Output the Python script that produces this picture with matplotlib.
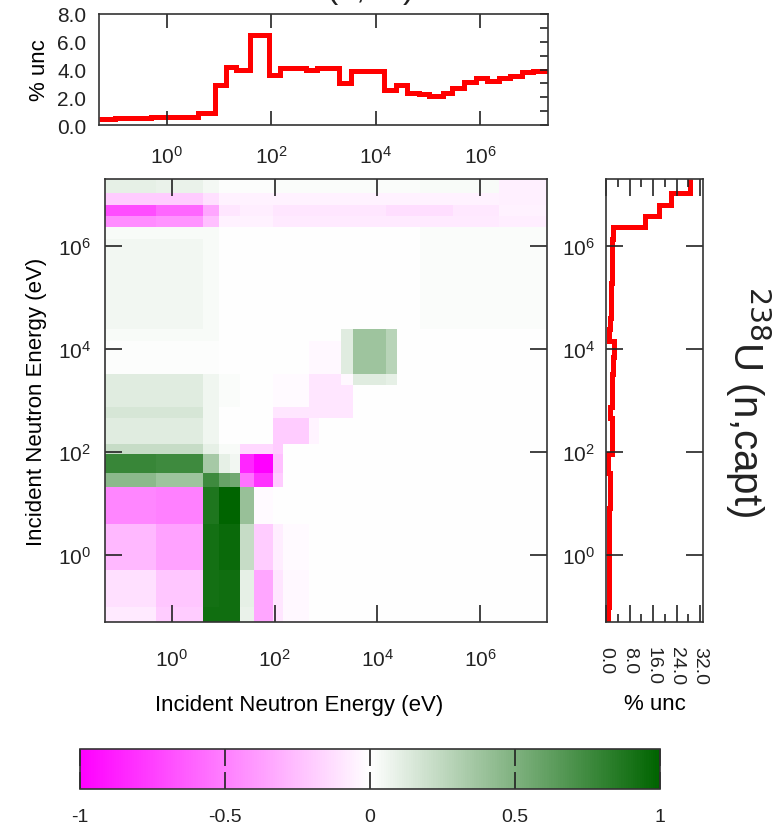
import matplotlib

matplotlib.use("Agg")
import matplotlib.pyplot as plt
import numpy as np
from matplotlib.colors import LinearSegmentedColormap
from matplotlib.ticker import FixedLocator, MultipleLocator

# group boundaries, log10(E / eV)
edges_log = [-1.30, -1.00, -0.30, 0.60, 0.92, 1.14, 1.33, 1.59, 1.96, 2.16, 2.45,
             2.66, 2.87, 3.05, 3.30, 3.52, 3.85, 4.16, 4.39, 4.60, 4.83, 5.03,
             5.28, 5.47, 5.70, 5.93, 6.13, 6.36, 6.58, 6.80, 7.02, 7.30]

# % uncertainty of the column reaction (top panel)
unc_top = [0.4, 0.5, 0.6, 0.9, 2.9, 4.2, 4.0, 6.5, 3.6, 4.1, 4.1, 4.0, 4.1, 4.1,
           3.0, 3.9, 3.9, 2.5, 2.9, 2.3, 2.2, 2.1, 2.3, 2.7, 3.1, 3.4, 3.2, 3.4,
           3.5, 3.8, 3.9]

# % uncertainty of 238U (n,capt) (right panel)
unc_right = [0.8, 0.9, 1.0, 1.0, 1.2, 1.3, 1.3, 0.8, 1.9, 2.0, 2.2, 1.4, 2.0, 2.0,
             2.0, 2.4, 2.6, 1.1, 1.5, 1.6, 1.8, 1.8, 1.9, 1.9, 1.9, 2.0, 2.4,
             13.4, 18.0, 22.1, 28.5]

# correlation blocks: (row0, row1, col0, col1, value)
corr_blocks = [
    (30, 31, 0, 2, 0.10), (30, 31, 2, 3, 0.08), (30, 31, 3, 4, 0.04),
    (30, 31, 4, 8, 0.01), (30, 31, 8, 20, 0.02), (30, 31, 20, 27, 0.03),
    (30, 31, 27, 31, -0.06),
    (29, 30, 0, 3, -0.20), (29, 30, 3, 4, -0.12), (29, 30, 4, 27, -0.05),
    (29, 30, 27, 31, -0.06),
    (28, 29, 0, 2, -0.70), (28, 29, 2, 3, -0.60), (28, 29, 3, 4, -0.35),
    (28, 29, 4, 6, -0.10), (28, 29, 6, 8, -0.07), (28, 29, 8, 17, -0.10),
    (28, 29, 17, 23, -0.13), (28, 29, 23, 27, -0.09), (28, 29, 27, 31, -0.05),
    (27, 28, 0, 2, -0.45), (27, 28, 2, 3, -0.42), (27, 28, 3, 4, -0.25),
    (27, 28, 4, 8, -0.05), (27, 28, 8, 27, -0.08), (27, 28, 27, 31, -0.07),
    (18, 27, 0, 3, 0.05), (18, 27, 3, 4, 0.03), (18, 27, 20, 31, 0.02),
    (26, 27, 0, 3, 0.03),
    (17, 18, 0, 4, 0.03),
    (15, 17, 0, 4, 0.01), (15, 17, 11, 14, -0.03),
    (15, 18, 14, 15, 0.12), (15, 18, 15, 17, 0.38), (15, 18, 17, 18, 0.28),
    (12, 15, 0, 3, 0.12), (12, 15, 3, 4, 0.06), (12, 15, 4, 6, 0.02),
    (12, 15, 8, 11, -0.02), (12, 15, 11, 15, -0.10),
    (14, 15, 14, 15, -0.03), (14, 15, 15, 17, 0.12), (14, 15, 17, 18, 0.10),
    (11, 12, 0, 3, 0.16), (11, 12, 3, 4, 0.06), (11, 12, 8, 15, -0.10),
    (9, 11, 0, 3, 0.12), (9, 11, 3, 4, 0.06), (9, 11, 8, 11, -0.20),
    (9, 11, 11, 12, -0.04),
    (8, 9, 0, 3, 0.22), (8, 9, 3, 4, 0.10), (8, 9, 4, 6, 0.03),
    (8, 9, 6, 8, -0.15), (8, 9, 8, 9, -0.20),
    (7, 8, 0, 2, 0.78), (7, 8, 2, 3, 0.75), (7, 8, 3, 4, 0.35),
    (7, 8, 4, 5, 0.10), (7, 8, 5, 6, 0.05), (7, 8, 6, 7, -0.85),
    (7, 8, 7, 8, -1.00), (7, 8, 8, 9, -0.25),
    (6, 7, 0, 2, 0.45), (6, 7, 2, 3, 0.38), (6, 7, 3, 4, 0.75),
    (6, 7, 4, 5, 0.60), (6, 7, 5, 6, 0.55), (6, 7, 6, 7, -0.55),
    (6, 7, 7, 8, -0.80), (6, 7, 8, 9, -0.20),
    (3, 6, 0, 2, -0.47), (3, 6, 2, 3, -0.50), (3, 6, 3, 4, 0.88),
    (3, 6, 4, 6, 1.00), (3, 6, 6, 7, 0.40), (3, 6, 7, 8, -0.02),
    (2, 3, 0, 2, -0.28), (2, 3, 2, 3, -0.36), (2, 3, 3, 4, 0.92),
    (2, 3, 4, 6, 0.96), (2, 3, 6, 7, 0.22), (2, 3, 7, 8, -0.20),
    (2, 3, 8, 9, -0.07), (2, 3, 9, 11, -0.02),
    (1, 2, 0, 2, -0.12), (1, 2, 2, 3, -0.22), (1, 2, 3, 4, 0.92),
    (1, 2, 4, 6, 0.93), (1, 2, 6, 7, 0.10), (1, 2, 7, 8, -0.35),
    (1, 2, 8, 9, -0.10), (1, 2, 9, 11, -0.03),
    (0, 1, 0, 2, -0.08), (0, 1, 2, 3, -0.20), (0, 1, 3, 6, 0.93),
    (0, 1, 6, 7, 0.08), (0, 1, 7, 8, -0.35), (0, 1, 8, 9, -0.10),
    (0, 1, 9, 11, -0.03),
]

cbar_ticks = [-1, -0.5, 0, 0.5, 1]
cbar_labels = ["-1", "-0.5", "0", "0.5", "1"]
energy_ticks = [1e0, 1e2, 1e4, 1e6]

edges = 10.0 ** np.array(edges_log)
n = len(edges) - 1
corr = np.zeros((n, n))
for r0, r1, c0, c1, v in corr_blocks:
    corr[r0:r1, c0:c1] = v

plt.rcParams.update({
    "font.family": ["Liberation Sans", "DejaVu Sans"],
    "font.size": 15,
    "axes.unicode_minus": False,
    "axes.edgecolor": "#333333",
    "axes.linewidth": 1.2,
    "xtick.color": "#222222",
    "ytick.color": "#222222",
    "text.color": "#222222",
})

cmap = LinearSegmentedColormap.from_list("pg", ["#ff00ff", "#ffffff", "#006400"])
W, H = 780, 829
fig = plt.figure(figsize=(W / 100, H / 100), dpi=100)


def box(x0, y0, x1, y1):
    return [x0 / W, 1 - y1 / H, (x1 - x0) / W, (y1 - y0) / H]


ax_top = fig.add_axes(box(99, 15, 548, 126))
ax_main = fig.add_axes(box(105, 180, 547, 623))
ax_right = fig.add_axes(box(606, 180, 703, 623))
cax = fig.add_axes(box(80, 750, 660, 790))

xlo, xhi = edges[0], edges[-1]

# top panel
ax_top.stairs(unc_top, edges, baseline=None, color="red", lw=3.6)
ax_top.set_xscale("log")
ax_top.set_xlim(xlo, xhi)
ax_top.set_ylim(0, 8)
ax_top.xaxis.set_major_locator(FixedLocator(energy_ticks))
ax_top.xaxis.set_minor_locator(FixedLocator([]))
ax_top.set_yticks([0, 2, 4, 6, 8])
ax_top.set_yticklabels(["0.0", "2.0", "4.0", "6.0", "8.0"])
ax_top.yaxis.set_minor_locator(MultipleLocator(1))
ax_top.tick_params(axis="x", direction="in", top=True, bottom=True, length=10, width=1.2, pad=14)
ax_top.tick_params(axis="y", which="both", direction="in", left=False, right=True,
                   length=6, width=1.2, pad=9)
ax_top.set_ylabel("% unc", fontsize=16, labelpad=5)

# correlation matrix
mesh = ax_main.pcolormesh(edges, edges, corr, cmap=cmap, vmin=-1, vmax=1,
                          shading="flat", edgecolors="face", linewidth=0)
ax_main.set_xscale("log")
ax_main.set_yscale("log")
ax_main.set_xlim(xlo, xhi)
ax_main.set_ylim(xlo, xhi)
for axis in (ax_main.xaxis, ax_main.yaxis):
    axis.set_major_locator(FixedLocator(energy_ticks))
    axis.set_minor_locator(FixedLocator([]))
ax_main.tick_params(axis="x", direction="in", top=True, length=12, width=1.2, pad=19)
ax_main.tick_params(axis="y", direction="in", right=True, length=12, width=1.2, pad=10)
ax_main.set_xlabel("Incident Neutron Energy (eV)", fontsize=16, labelpad=17, x=0.44)
ax_main.set_ylabel("Incident Neutron Energy (eV)", fontsize=16, labelpad=8)

# right panel
ax_right.stairs(unc_right, edges, orientation="horizontal", baseline=None, color="red", lw=3.6)
ax_right.set_yscale("log")
ax_right.set_ylim(xlo, xhi)
ax_right.set_xlim(0, 33)
ax_right.yaxis.set_major_locator(FixedLocator(energy_ticks))
ax_right.yaxis.set_minor_locator(FixedLocator([]))
ax_right.set_xticks([0, 8, 16, 24, 32])
ax_right.set_xticklabels(["0.0", "8.0", "16.0", "24.0", "32.0"], rotation=-90)
ax_right.xaxis.set_minor_locator(FixedLocator([4, 12, 20, 28]))
ax_right.tick_params(axis="y", direction="in", left=True, right=True, length=12, width=1.2, pad=8)
ax_right.tick_params(axis="x", which="major", direction="in", top=True, bottom=True,
                     length=12, width=1.2, pad=17, labelsize=14)
ax_right.tick_params(axis="x", which="minor", direction="in", top=True, bottom=True,
                     length=6, width=1.2)
ax_right.set_xlabel("% unc", fontsize=16, labelpad=7)

fig.text(748 / W, 1 - 402 / H, "$^{238}$U (n,capt)", rotation=-90, fontsize=29,
         ha="center", va="center")
fig.text(330 / W, 1 - 8 / H, "$^{238}$U (n,tot)", fontsize=24, ha="center", va="bottom")

# colorbar
cbar = fig.colorbar(mesh, cax=cax, orientation="horizontal", ticks=cbar_ticks)
cbar.set_ticklabels(cbar_labels)
cbar.outline.set_linewidth(1.2)
cbar.outline.set_edgecolor("#333333")
cax.tick_params(axis="x", direction="in", top=True, bottom=True, length=12, width=1.2,
                pad=14, labelsize=14)

fig.savefig("out.png", dpi=100)
plt.close(fig)
